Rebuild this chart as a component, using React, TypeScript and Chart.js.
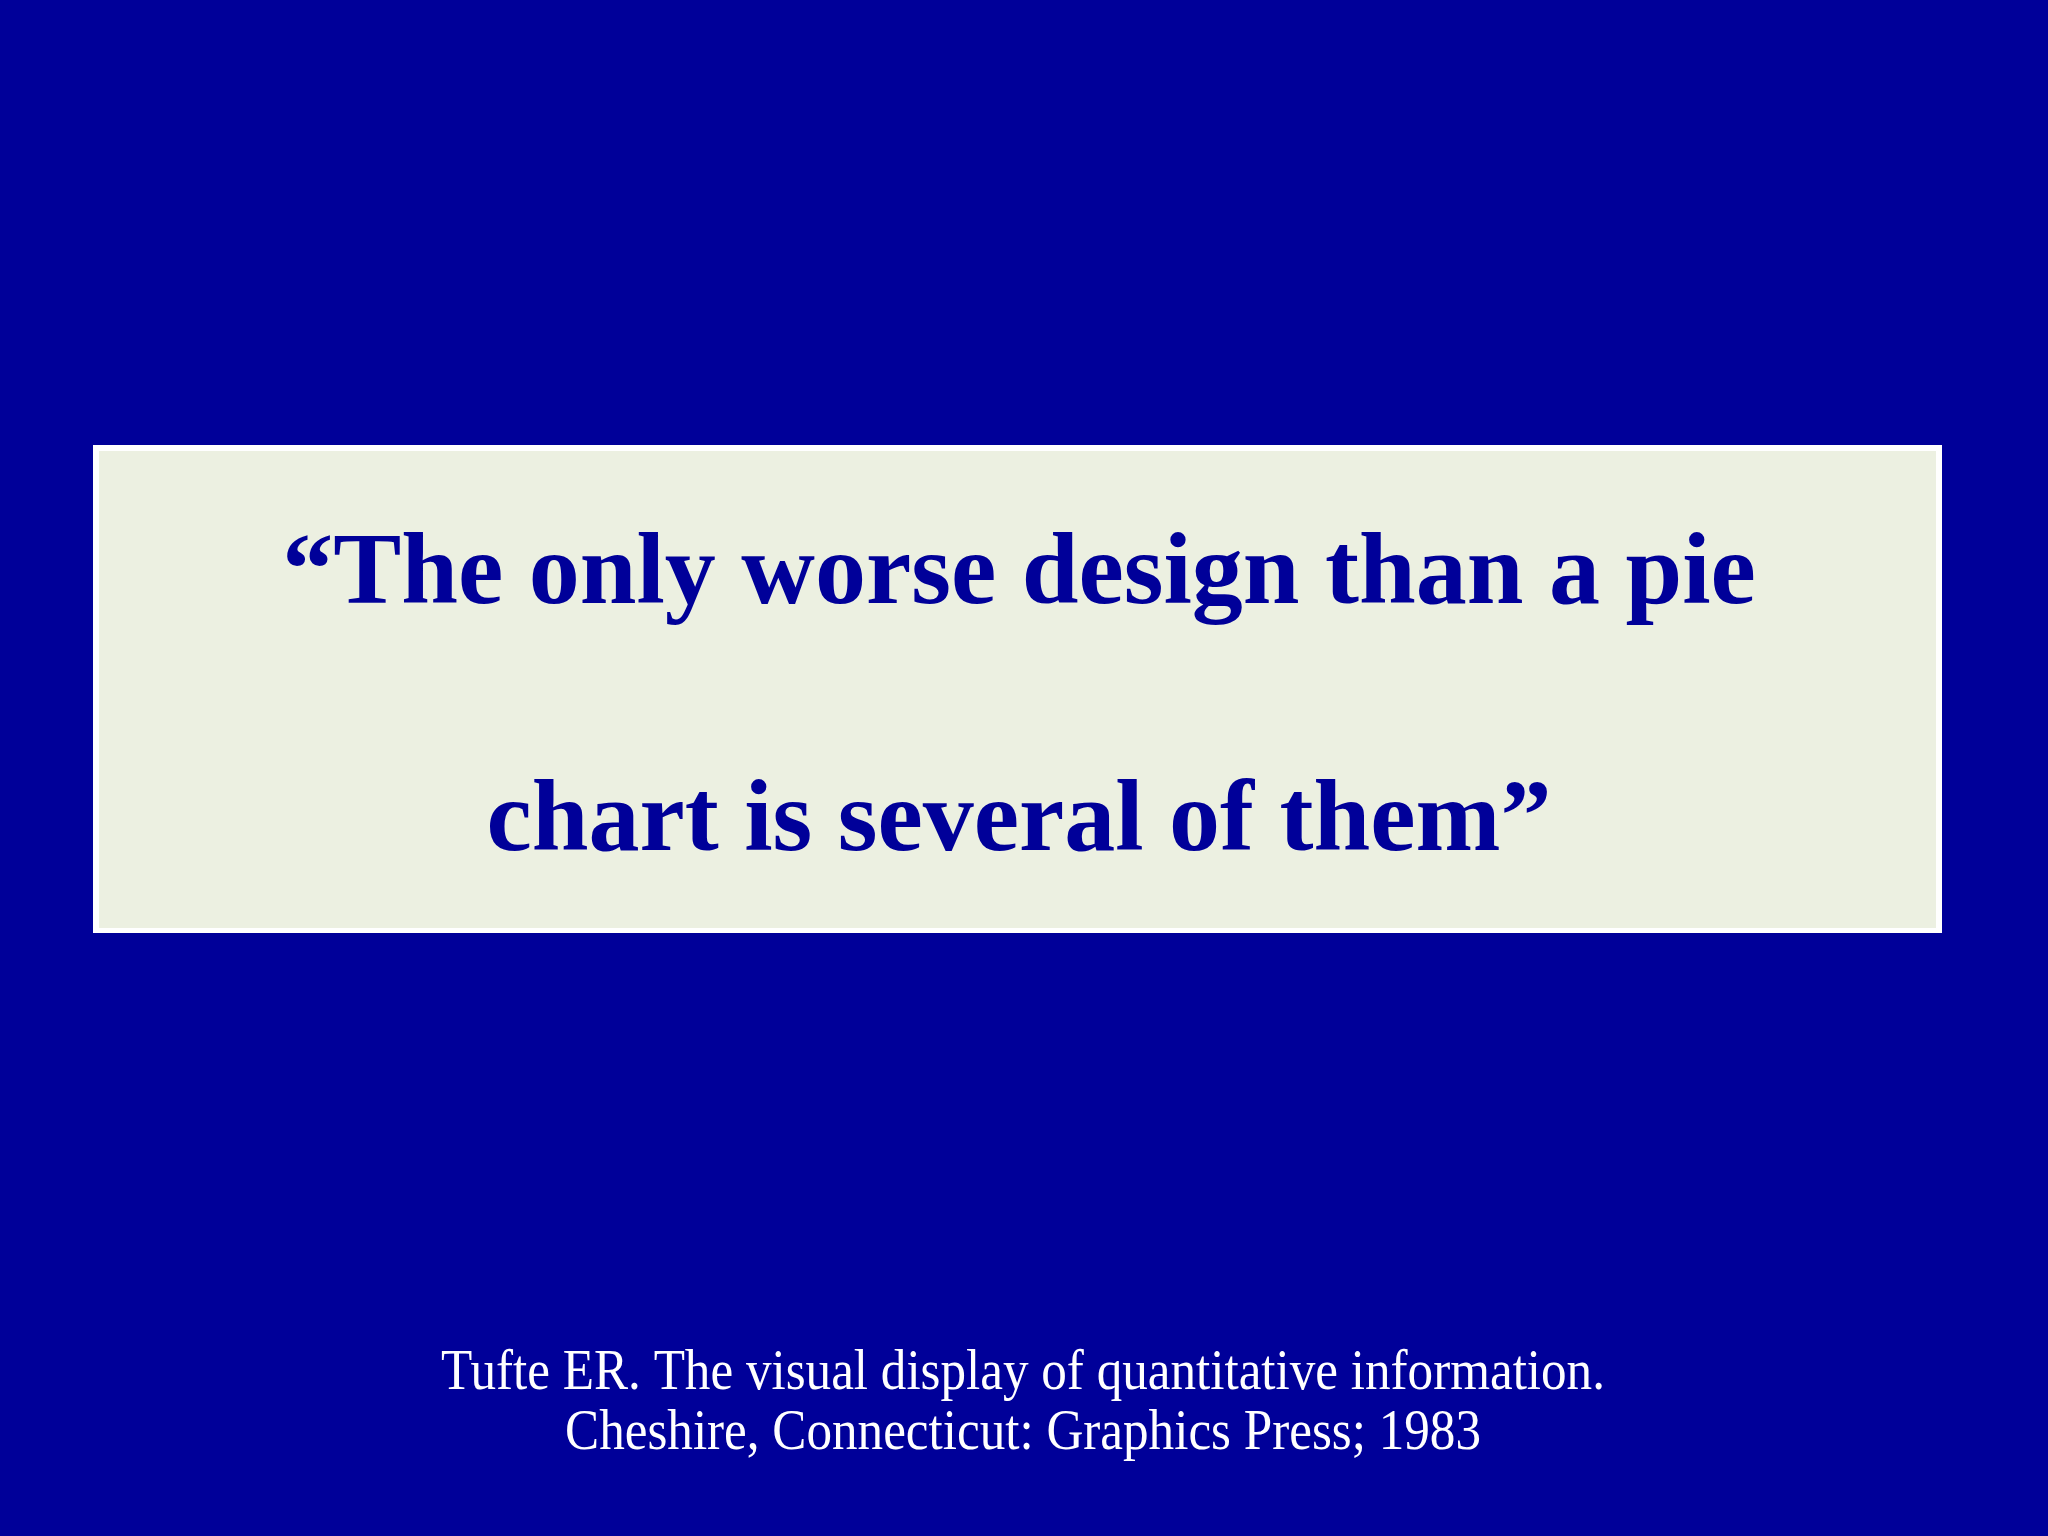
import { useEffect, useRef } from 'react';
import { Chart, registerables } from 'chart.js';

Chart.register(...registerables);

const quoteLines = ['\u201CThe only worse design than a pie', 'chart is several of them\u201D'];
const citationLines = [
  'Tufte ER. The visual display of quantitative information.',
  'Cheshire, Connecticut: Graphics Press; 1983',
];

const NAVY = '#000099';
const PANEL = '#ECF0E1';
const SERIF = '"Liberation Serif", "Times New Roman", serif';

// paints the slide: navy ground and the pale quote panel with a white rim
const slideBackground = {
  id: 'slideBackground',
  beforeDraw(chart: Chart) {
    const { ctx, width, height } = chart;
    ctx.save();
    ctx.fillStyle = NAVY;
    ctx.fillRect(0, 0, width, height);
    ctx.fillStyle = '#FFFFFF';
    ctx.fillRect(93, 445, 1849, 488);
    ctx.fillStyle = PANEL;
    ctx.fillRect(99, 451, 1837, 477);
    ctx.restore();
  },
};

// reference line at the foot of the slide, set a little condensed like the original
const citation = {
  id: 'citation',
  afterDraw(chart: Chart) {
    const { ctx } = chart;
    ctx.save();
    ctx.fillStyle = '#FFFFFF';
    ctx.font = `56px ${SERIF}`;
    ctx.textAlign = 'center';
    ctx.textBaseline = 'alphabetic';
    citationLines.forEach((line, i) => {
      ctx.save();
      ctx.translate(1023, 1389 + i * 60);
      ctx.scale(0.913, 1);
      ctx.fillText(line, 0, 0);
      ctx.restore();
    });
    ctx.restore();
  },
};

export default function App() {
  const canvasRef = useRef<HTMLCanvasElement>(null);
  const chartRef = useRef<Chart>();

  useEffect(() => {
    document.body.style.margin = '0';
    if (!canvasRef.current) return;
    chartRef.current?.destroy();

    chartRef.current = new Chart(canvasRef.current, {
      type: 'pie',
      data: { labels: [], datasets: [{ data: [] }] },
      options: {
        animation: false,
        responsive: false,
        devicePixelRatio: 1,
        events: [],
        layout: { padding: { right: 10 } },
        plugins: {
          legend: { display: false },
          tooltip: { enabled: false },
          title: {
            display: true,
            text: quoteLines,
            color: NAVY,
            align: 'center',
            padding: { top: 453, bottom: 0 },
            font: { family: SERIF, size: 102, weight: 'bold', lineHeight: 2.42 },
          },
        },
      },
      plugins: [slideBackground, citation],
    });

    return () => {
      chartRef.current?.destroy();
    };
  }, []);

  return (
    <div style={{ position: 'absolute', left: 0, top: 0, width: 2048, height: 1536, background: NAVY }}>
      <canvas ref={canvasRef} width={2048} height={1536} />
    </div>
  );
}
